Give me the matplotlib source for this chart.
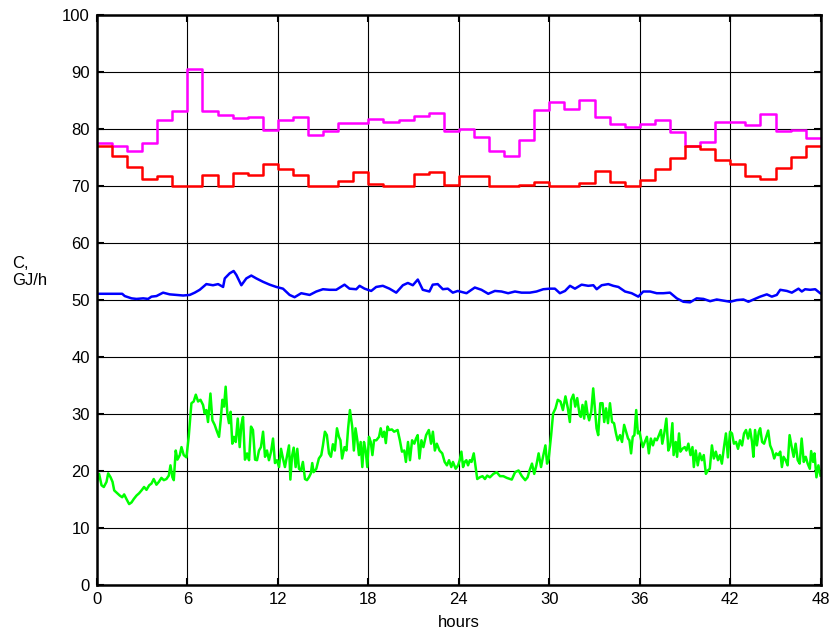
import numpy as np
import matplotlib
matplotlib.use("Agg")
from matplotlib import pyplot as plt

plt.rcParams['font.family'] = ['Liberation Sans', 'DejaVu Sans']

# hourly step values (hour 0..47)
magenta_vals = [77.5, 77.1, 76.1, 77.5, 81.6, 83.1, 90.5, 83.1, 82.5, 81.9,
                82.2, 79.9, 81.6, 82.2, 79.0, 79.7, 81.05, 81.05, 81.75, 81.3,
                81.6, 82.3, 82.9, 79.6, 80.05, 78.6, 76.1, 75.2, 78.0, 83.3,
                84.7, 83.5, 85.1, 82.2, 80.9, 80.3, 80.9, 81.6, 79.5, 77.1,
                77.8, 81.2, 81.2, 80.7, 82.6, 79.7, 79.8, 78.4]
red_vals = [77.1, 75.2, 73.3, 71.2, 71.8, 70.0, 70.0, 72.0, 70.0, 72.3,
            72.0, 73.9, 73.0, 72.0, 70.0, 70.0, 70.9, 72.4, 70.3, 70.0,
            70.0, 72.2, 72.4, 70.2, 71.8, 71.8, 70.0, 70.0, 70.2, 70.7,
            70.0, 70.0, 70.5, 72.6, 70.7, 70.0, 71.1, 73.0, 74.9, 77.1,
            76.5, 74.6, 73.9, 71.8, 71.2, 73.2, 75.1, 77.1]

# blue series
blue_t = [0.00, 1.68, 1.85, 2.30, 2.63, 3.07, 3.40, 3.62, 3.95, 4.39, 4.83, 5.28,
          5.72, 6.16, 6.49, 6.82, 7.26, 7.70, 8.04, 8.37, 8.48, 8.81, 9.07, 9.25,
          9.58, 9.91, 10.24, 10.57, 11.02, 11.46, 11.90, 12.34, 12.78, 13.11, 13.55,
          14.11, 14.55, 14.99, 15.43, 15.87, 16.42, 16.75, 17.20, 17.42, 17.75,
          18.19, 18.52, 18.96, 19.40, 19.85, 20.29, 20.62, 20.95, 21.28, 21.61,
          22.05, 22.27, 22.60, 22.94, 23.27, 23.60, 23.93, 24.51, 25.06, 25.50,
          25.95, 26.39, 26.83, 27.27, 27.72, 28.16, 28.71, 29.15, 29.60, 30.04,
          30.37, 30.70, 31.04, 31.37, 31.70, 32.14, 32.58, 32.92, 33.14, 33.47,
          33.91, 34.24, 34.58, 35.02, 35.46, 35.90, 36.23, 36.68, 37.12, 37.56,
          38.00, 38.45, 38.89, 39.33, 39.77, 40.22, 40.66, 41.10, 41.54, 41.99,
          42.43, 42.87, 43.20, 43.54, 43.98, 44.42, 44.75, 45.08, 45.31, 45.75,
          46.08, 46.52, 46.74, 46.96, 47.29, 47.63, 47.96]
blue_vals = [51.1, 51.1, 50.7, 50.3, 50.2, 50.3, 50.2, 50.6, 50.7, 51.3, 51.0, 50.9,
             50.8, 50.9, 51.3, 51.8, 52.8, 52.6, 52.8, 52.3, 53.8, 54.7, 55.1, 54.4,
             52.6, 53.8, 54.3, 53.8, 53.2, 52.7, 52.3, 52.0, 50.9, 50.5, 51.2,
             50.9, 51.5, 51.9, 51.8, 51.8, 52.7, 52.0, 51.9, 52.5, 52.0,
             51.6, 52.3, 52.5, 52.0, 51.3, 52.6, 53.0, 52.6, 53.6, 51.8,
             51.5, 52.7, 52.8, 51.9, 52.0, 51.3, 51.6, 51.2, 52.2, 51.8,
             51.1, 51.6, 51.5, 51.2, 51.5, 51.3, 51.3, 51.5, 51.9, 52.0,
             52.0, 51.2, 51.6, 52.5, 52.0, 52.7, 52.5, 52.6, 51.9, 52.6,
             52.8, 52.5, 52.3, 51.5, 51.2, 50.6, 51.5, 51.5, 51.2, 51.2,
             51.3, 50.3, 49.7, 49.6, 50.3, 50.2, 49.8, 50.1, 49.9, 49.7,
             50.0, 50.1, 49.7, 50.1, 50.6, 51.0, 50.6, 50.9, 51.8, 51.6,
             51.3, 52.0, 51.5, 51.9, 51.8, 51.9, 51.2]

# green series
green_t = [0.00, 0.15, 0.31, 0.46, 0.64, 0.75, 0.91, 1.04, 1.15, 1.35, 1.52, 1.68,
           1.81, 1.96, 2.14, 2.30, 2.45, 2.63, 2.80, 2.96, 3.13, 3.29, 3.47, 3.62,
           3.77, 3.95, 4.11, 4.28, 4.44, 4.61, 4.77, 4.88, 5.01, 5.10, 5.23, 5.34,
           5.50, 5.61, 5.76, 5.94, 6.09, 6.27, 6.42, 6.56, 6.71, 6.87, 7.04, 7.15,
           7.26, 7.37, 7.53, 7.66, 7.81, 7.97, 8.10, 8.21, 8.32, 8.43, 8.54, 8.65,
           8.76, 8.87, 8.98, 9.09, 9.21, 9.34, 9.47, 9.58, 9.69, 9.82, 9.96, 10.09,
           10.22, 10.35, 10.49, 10.62, 10.75, 10.88, 11.02, 11.15, 11.28, 11.41,
           11.55, 11.68, 11.81, 11.94, 12.08, 12.21, 12.34, 12.47, 12.60, 12.74,
           12.83, 12.94, 13.05, 13.18, 13.29, 13.40, 13.53, 13.66, 13.80, 13.93,
           14.06, 14.19, 14.28, 14.37, 14.55, 14.72, 14.88, 14.99, 15.12, 15.25,
           15.39, 15.52, 15.65, 15.78, 15.92, 16.05,
           16.15, 16.26, 16.42, 16.55, 16.66, 16.78, 16.93, 17.04, 17.15, 17.27,
           17.38, 17.49, 17.60, 17.71, 17.82, 17.93, 18.04, 18.16, 18.27, 18.38,
           18.53, 18.71, 18.82, 18.94, 19.05, 19.16, 19.27, 19.38, 19.56, 19.71,
           19.94, 20.09, 20.23, 20.38, 20.49, 20.63, 20.76, 20.90, 21.05, 21.16,
           21.27, 21.39, 21.52, 21.65, 21.83, 22.01, 22.16, 22.28, 22.41, 22.54,
           22.72, 22.90, 23.06, 23.21, 23.35, 23.50, 23.61, 23.79, 23.95, 24.06,
           24.17, 24.28, 24.39, 24.50, 24.61, 24.73, 24.84, 24.99, 25.10, 25.22,
           25.39, 25.57, 25.73, 25.88, 26.06, 26.29, 26.51, 26.73, 26.95, 27.18,
           27.51, 27.73, 27.96, 28.18, 28.40, 28.56, 28.69, 28.85, 29.00, 29.14,
           29.29, 29.45, 29.58, 29.74, 29.85, 29.96, 30.12, 30.25, 30.41, 30.56,
           30.74, 30.90, 31.07, 31.23, 31.36, 31.45, 31.59, 31.72, 31.85, 32.01,
           32.09, 32.20, 32.31, 32.42, 32.53, 32.64, 32.78, 32.91, 33.04, 33.13,
           33.24, 33.38, 33.53, 33.64, 33.76, 33.89, 34.02, 34.16, 34.29, 34.42,
           34.53, 34.69, 34.82, 34.96, 35.09, 35.22, 35.31, 35.42, 35.53, 35.64,
           35.76, 35.87, 35.98, 36.09, 36.20, 36.33, 36.47, 36.60, 36.73, 36.87,
           37.00, 37.13, 37.27, 37.40, 37.49, 37.62, 37.76, 37.89, 38.02, 38.16,
           38.24, 38.38, 38.47, 38.60, 38.69, 38.82, 38.98, 39.09, 39.22, 39.36,
           39.49, 39.58, 39.71, 39.84, 39.98, 40.11, 40.24, 40.38, 40.51, 40.64,
           40.78, 40.91, 41.04, 41.18, 41.31, 41.44, 41.58, 41.71, 41.84, 41.98,
           42.11, 42.24, 42.38, 42.51, 42.64, 42.78, 42.91, 43.04, 43.18, 43.31,
           43.44, 43.53, 43.64, 43.76, 43.89, 43.98, 44.11, 44.24, 44.38, 44.51,
           44.64, 44.78, 44.91, 45.04, 45.18, 45.31, 45.42, 45.53, 45.67, 45.80,
           45.93, 46.07, 46.20, 46.33, 46.47, 46.60, 46.73, 46.87, 47.00, 47.13,
           47.27, 47.36, 47.49, 47.58, 47.71, 47.84, 47.98]
green_vals = [18.1, 19.5, 17.5, 17.2, 18.1, 19.6, 18.9, 18.1, 16.6, 16.1, 15.7, 15.4,
              15.9, 15.1, 14.2, 14.5, 15.1, 15.7, 16.1, 16.6, 17.2, 16.7, 17.5, 17.8,
              18.6, 17.6, 18.1, 18.8, 18.4, 18.6, 19.2, 21.0, 18.9, 18.4, 23.6, 22.0,
              22.8, 24.2, 22.8, 22.4, 26.0, 31.9, 32.2, 33.4, 32.2, 32.5, 31.6, 30.1,
              30.7, 28.6, 33.6, 28.9, 28.1, 26.9, 26.0, 28.9, 32.5, 31.3, 34.8, 30.1,
              28.4, 30.4, 24.8, 26.0, 25.1, 29.2, 24.2, 28.1, 29.5, 22.0, 23.1, 21.9,
              27.8, 27.2, 22.0, 21.9, 23.6, 24.2, 26.9, 22.5, 23.6, 21.9,
              23.4, 25.7, 21.4, 21.9, 20.7, 23.9, 22.2, 20.7, 22.5, 24.5,
              18.5, 22.6, 24.1, 20.7, 23.9, 20.4, 20.1, 21.6, 18.6, 18.4,
              18.9, 19.6, 21.4, 19.8, 20.4, 22.2, 22.8, 24.5, 26.9, 26.3,
              23.1, 22.5, 24.7, 23.6, 27.5, 26.0,
              25.4, 22.2, 24.2, 23.6, 27.5, 30.7, 27.8, 23.6, 27.5, 25.4,
              22.8, 25.1, 20.7, 25.1, 23.6, 20.7, 26.0, 25.1, 22.8, 25.4,
              25.4, 26.0, 27.5, 26.0, 26.9, 24.9, 27.8, 27.2, 27.3, 26.9,
              27.2, 25.4, 23.4, 23.6, 21.6, 25.1, 21.9, 25.4, 24.8, 25.7,
              26.3, 22.2, 25.4, 24.2, 26.3, 27.2, 24.8, 26.9, 23.6, 24.8,
              23.6, 23.1, 21.6, 21.0, 21.9, 20.7, 21.6, 20.4, 21.0, 21.9,
              23.4, 20.7, 21.6, 21.9, 21.0, 21.9, 21.6, 23.1, 21.0, 18.6,
              18.9, 19.1, 18.6, 19.2, 18.9, 19.5, 19.8, 19.1, 19.1, 18.8,
              18.5, 19.8, 20.1, 19.1, 18.4, 18.9, 20.1, 21.3, 19.5, 21.0,
              23.1, 20.7, 22.5, 24.5, 21.3, 22.2, 26.3, 30.1, 31.0, 32.5,
              32.2, 30.7, 33.1, 31.0, 28.6, 32.5, 33.4, 31.3, 32.8, 29.8,
              29.5, 31.6, 29.2, 32.2, 30.1, 28.9, 30.4, 34.5, 30.4, 27.5,
              26.3, 31.9, 31.9, 28.6, 31.0, 28.4, 31.9, 28.6, 28.4, 26.6,
              25.4, 26.3, 25.1, 28.1, 26.9, 25.7, 25.4, 23.1, 26.0, 26.3,
              30.7, 26.6, 26.9, 25.4, 24.2, 25.1, 26.0, 23.1, 25.7, 24.5,
              25.7, 25.4, 26.3, 27.2, 24.8, 26.6, 29.2, 23.6, 24.5, 28.4,
              22.8, 25.1, 22.5, 26.6, 23.4, 23.9, 24.2, 23.6, 24.8, 22.8,
              24.2, 20.7, 23.6, 21.0, 23.1, 21.9, 22.8, 19.5, 20.1, 20.4,
              24.5, 22.2, 23.4, 21.9, 22.8, 21.3, 24.2, 26.6, 22.4, 26.9,
              26.6, 24.8, 25.1, 23.9, 25.4, 24.5, 26.6, 27.2, 25.7, 27.3,
              25.1, 22.5, 27.2, 24.5, 26.9, 27.5, 25.1, 24.8, 26.0, 27.1,
              24.5, 23.6, 22.2, 23.1, 22.8, 23.4, 20.7, 22.5, 21.9, 21.0,
              26.3, 24.2, 22.5, 24.8, 21.9, 21.3, 25.7, 21.6, 22.5, 21.3,
              20.4, 23.5, 21.6, 23.1, 18.9, 21.0, 19.2]

hours = np.arange(49)

fig = plt.figure(figsize=(8.35, 6.37), dpi=100)
ax = fig.add_axes([0.116, 0.0816, 0.867, 0.8947])

# step series: repeat last value so final hour is drawn
ax.plot(hours, magenta_vals + [magenta_vals[-1]], drawstyle='steps-post',
        color='#ff00ff', lw=1.8)
ax.plot(hours, red_vals + [red_vals[-1]], drawstyle='steps-post',
        color='#ff0000', lw=1.8)
ax.plot(blue_t, blue_vals, color='#0000ff', lw=1.8)
ax.plot(green_t, green_vals, color='#00ff00', lw=1.8)

ax.set_xlim(0, 48)
ax.set_ylim(0, 100)
ax.set_xticks(range(0, 49, 6))
ax.set_yticks(range(0, 101, 10))
ax.grid(True, color='black', lw=0.8)
ax.set_axisbelow(True)
ax.tick_params(axis='both', direction='in', length=5, width=1.5, labelsize=12,
               pad=5, top=True, right=True)
for sp in ax.spines.values():
    sp.set_linewidth(1.8)

ax.set_xlabel('hours', fontsize=12, labelpad=6)
fig.text(0.015, 0.573, 'C,\nGJ/h', fontsize=12, ha='left', va='center')

fig.savefig('out.png', dpi=100)
